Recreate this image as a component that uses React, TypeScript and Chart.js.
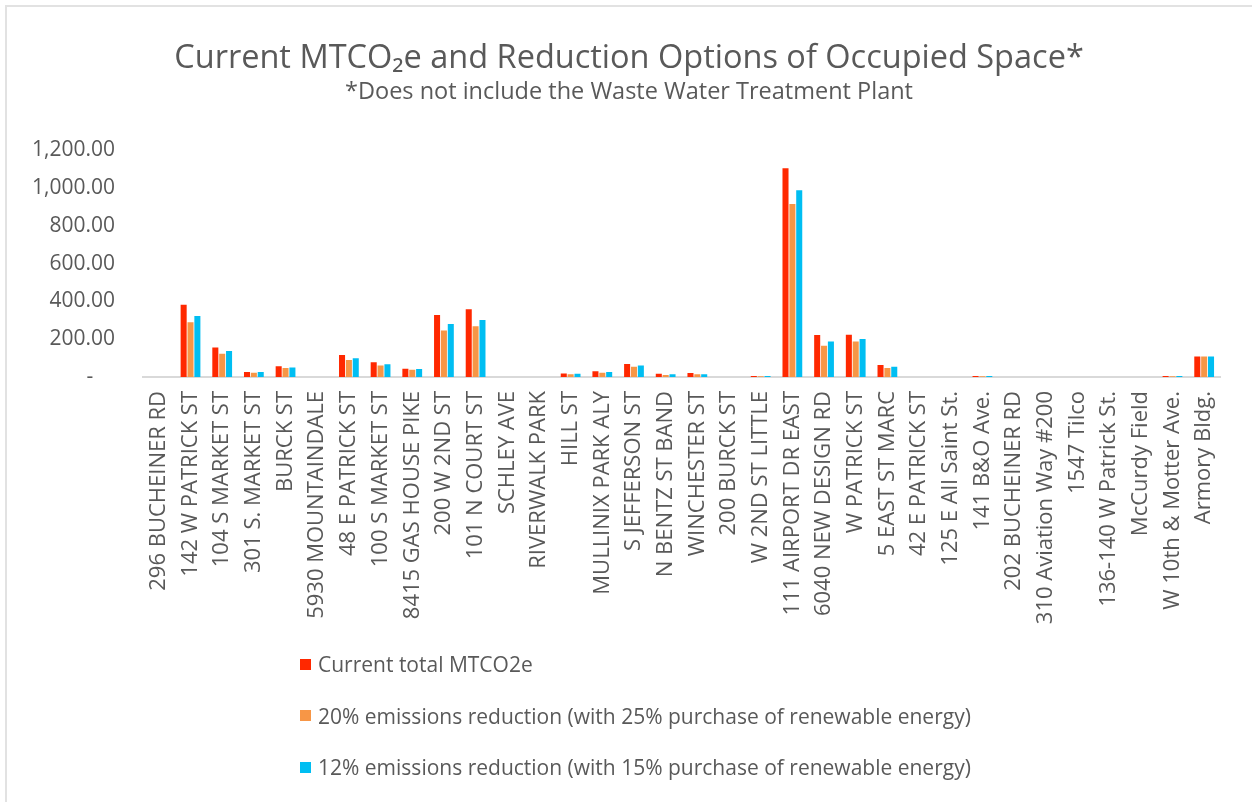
import React, { useEffect, useRef } from "react";
import { Chart, registerables } from "chart.js";

Chart.register(...registerables);

const categories: string[] = [
  "296 BUCHEINER RD",
  "142 W PATRICK ST",
  "104 S MARKET ST",
  "301 S. MARKET ST",
  "BURCK ST",
  "5930 MOUNTAINDALE",
  "48 E PATRICK ST",
  "100 S MARKET ST",
  "8415 GAS HOUSE PIKE",
  "200 W 2ND ST",
  "101 N COURT ST",
  "SCHLEY AVE",
  "RIVERWALK PARK",
  "HILL ST",
  "MULLINIX PARK ALY",
  "S JEFFERSON ST",
  "N BENTZ ST BAND",
  "WINCHESTER ST",
  "200 BURCK ST",
  "W 2ND ST LITTLE",
  "111 AIRPORT DR EAST",
  "6040 NEW DESIGN RD",
  "W PATRICK ST",
  "5 EAST ST MARC",
  "42 E PATRICK ST",
  "125 E All Saint St.",
  "141 B&O Ave.",
  "202 BUCHEINER RD",
  "310 Aviation Way #200",
  "1547 Tilco",
  "136-140 W Patrick St.",
  "McCurdy Field",
  "W 10th & Motter Ave.",
  "Armory Bldg.",
];

const currentTotal: number[] = [
  0, 382, 156, 26, 57, 0, 116, 78, 43, 328, 358, 0, 0, 19, 31, 69, 17, 21, 0, 5,
  1105, 222, 224, 64, 0, 0, 5, 0, 0, 0, 0, 0, 5, 108,
];

const reduction20: number[] = [
  0, 290, 123, 22, 47, 0, 90, 61, 38, 246, 269, 0, 0, 14, 22, 54, 10, 14, 0, 4,
  915, 165, 188, 47, 0, 0, 4, 0, 0, 0, 0, 0, 4, 108,
];

const reduction12: number[] = [
  0, 323, 137, 26, 50, 0, 99, 68, 42, 281, 302, 0, 0, 17, 26, 61, 14, 14, 0, 5,
  988, 188, 201, 54, 0, 0, 5, 0, 0, 0, 0, 0, 5, 108,
];

const seriesLabels: string[] = [
  "Current total MTCO2e",
  "20% emissions reduction (with 25% purchase of renewable energy)",
  "12% emissions reduction (with 15% purchase of renewable energy)",
];

const seriesColors: string[] = ["#FF2800", "#F79646", "#00BEF2"];

const yTicks: number[] = [0, 200, 400, 600, 800, 1000, 1200];

const titleText = "Current MTCO\u2082e and Reduction Options of Occupied Space*";
const subtitleText = "*Does not include the Waste Water Treatment Plant";

const FONT = "'Open Sans', Lato, sans-serif";
const TEXT_COLOR = "#595959";

function formatTick(v: number): string {
  if (v === 0) return "-    ";
  return v.toLocaleString("en-US", { minimumFractionDigits: 2, maximumFractionDigits: 2 });
}

export default function App() {
  const canvasRef = useRef<HTMLCanvasElement | null>(null);

  useEffect(() => {
    if (!canvasRef.current) return;
    const seriesData = [currentTotal, reduction20, reduction12];
    const chart = new Chart(canvasRef.current, {
      type: "bar",
      data: {
        labels: categories,
        datasets: seriesLabels.map((label, i) => ({
          label,
          data: seriesData[i],
          backgroundColor: seriesColors[i],
          borderWidth: 0,
          categoryPercentage: 0.65,
          barPercentage: 0.88,
          yAxisID: "y",
        })),
      },
      options: {
        responsive: false,
        animation: false,
        devicePixelRatio: 1,
        layout: { padding: { top: 10, left: 6, right: 0, bottom: 155 } },
        plugins: {
          legend: { display: false },
          tooltip: { enabled: false },
          title: {
            display: true,
            text: titleText,
            color: TEXT_COLOR,
            font: { family: FONT, size: 32.5, weight: "normal" },
            padding: { top: 29, bottom: 0 },
          },
          subtitle: {
            display: true,
            text: subtitleText,
            color: TEXT_COLOR,
            font: { family: FONT, size: 23.5, weight: "normal" },
            padding: { top: 0, bottom: 44 },
          },
        },
        scales: {
          x: {
            grid: { display: false, drawTicks: false },
            border: { display: true, color: "#d9d9d9", width: 2 },
            ticks: {
              color: TEXT_COLOR,
              font: { family: FONT, size: 22 },
              maxRotation: 90,
              minRotation: 90,
              autoSkip: false,
              padding: 14,
            },
            afterFit: (scale: any) => {
              scale.height = 270;
            },
          },
          y: {
            position: "left",
            min: 0,
            max: 1200,
            grid: { display: false, drawTicks: false },
            border: { display: false },
            afterBuildTicks: (scale: any) => {
              scale.ticks = yTicks.map((v) => ({ value: v }));
            },
            ticks: {
              color: TEXT_COLOR,
              font: { family: FONT, size: 21 },
              padding: 28,
              callback: (v: any) => formatTick(Number(v)),
            },
            afterFit: (scale: any) => {
              scale.width = 137;
            },
          },
          yRight: {
            type: "linear",
            position: "right",
            min: 0,
            max: 1200,
            grid: { display: false, drawTicks: false },
            border: { display: false },
            ticks: { display: false },
            afterFit: (scale: any) => {
              scale.width = 32;
            },
          },
        },
      },
    });
    return () => chart.destroy();
  }, []);

  return (
    <div style={{ position: "absolute", left: 0, top: 0, width: 1252, height: 802, background: "#fff", overflow: "hidden" }}>
      <div
        style={{
          position: "absolute",
          left: 5,
          top: 5,
          width: 1300,
          height: 850,
          borderTop: "2px solid #e2e2e2",
          borderLeft: "2px solid #e2e2e2",
        }}
      />
      <canvas ref={canvasRef} width={1252} height={802} style={{ position: "absolute", left: 0, top: 0 }} />
      {seriesLabels.map((label, i) => (
        <div
          key={label}
          style={{
            position: "absolute",
            left: 300,
            top: 652 + i * 51.5,
            height: 24,
            display: "flex",
            alignItems: "center",
            fontFamily: FONT,
            fontSize: 21,
            color: TEXT_COLOR,
            whiteSpace: "nowrap",
          }}
        >
          <span style={{ display: "inline-block", width: 11, height: 11, background: seriesColors[i], marginRight: 7 }} />
          <span>{label}</span>
        </div>
      ))}
    </div>
  );
}
